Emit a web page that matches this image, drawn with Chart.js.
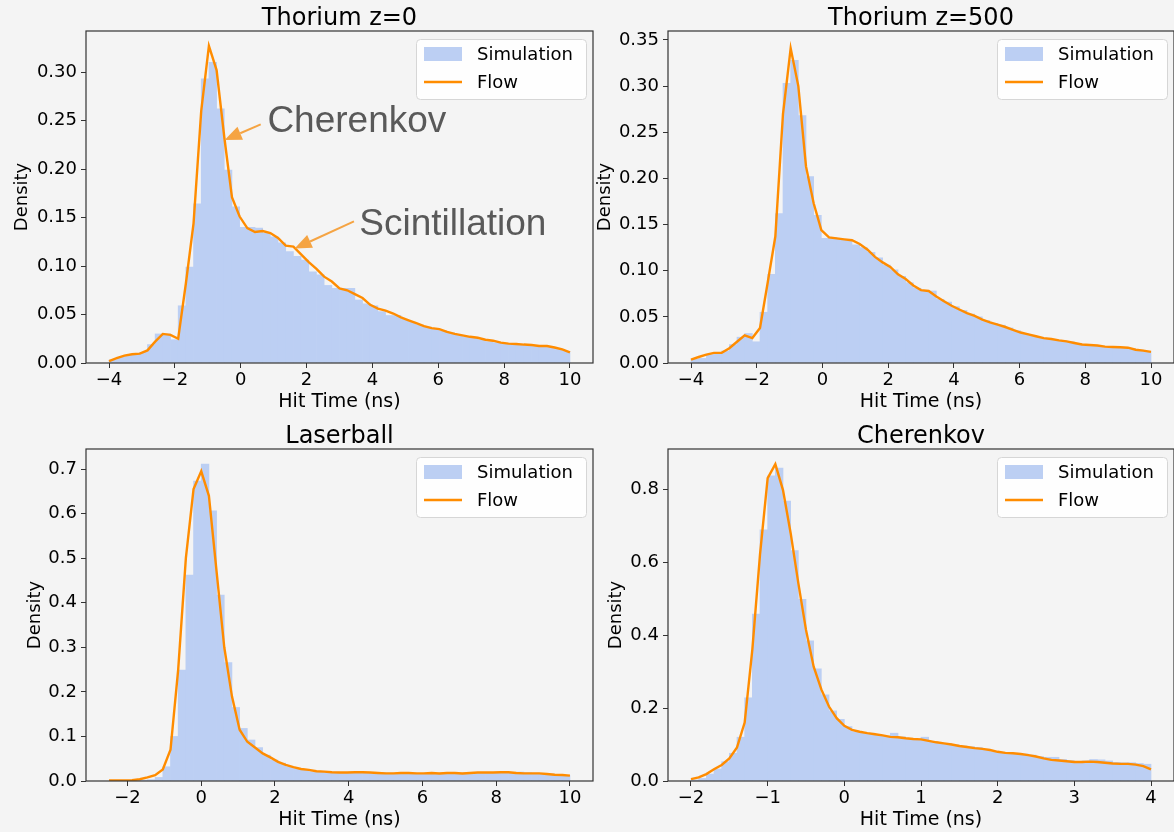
<!DOCTYPE html>
<html>
<head>
<meta charset="utf-8">
<script src="https://cdn.jsdelivr.net/npm/chart.js@4.4.1/dist/chart.umd.min.js"></script>
<style>
  html, body { margin: 0; padding: 0; background: #f4f4f4; width: 1174px; height: 832px; overflow: hidden; }
  canvas { position: absolute; }
</style>
</head>
<body>
<canvas id="c1" width="600" height="418" style="left:0;top:0"></canvas>
<canvas id="c2" width="585" height="418" style="left:595px;top:0"></canvas>
<canvas id="c3" width="600" height="418" style="left:0;top:418px"></canvas>
<canvas id="c4" width="585" height="418" style="left:595px;top:418px"></canvas>
<script>
// histogram heights (60 bins) and flow density at the bin edges (61 points)
const th0Sim = [0.003,0.006,0.008,0.009,0.011,0.019,0.030,0.030,0.024,0.059,
  0.099,0.164,0.293,0.310,0.262,0.199,0.161,0.140,0.140,0.139,
  0.134,0.130,0.124,0.115,0.110,0.106,0.094,0.091,0.080,0.077,
  0.077,0.077,0.065,0.061,0.059,0.053,0.049,0.049,0.045,0.042,
  0.039,0.037,0.035,0.033,0.031,0.029,0.027,0.026,0.024,0.022,
  0.021,0.020,0.019,0.019,0.018,0.017,0.017,0.016,0.014,0.012];
const th0Flow = [0.002,0.005,0.0076,0.009,0.0096,0.013,0.022,0.030,0.029,0.025,
  0.082,0.144,0.260,0.327,0.302,0.233,0.171,0.151,0.139,0.135,
  0.136,0.134,0.129,0.121,0.120,0.112,0.104,0.097,0.089,0.084,
  0.077,0.075,0.071,0.067,0.060,0.056,0.054,0.051,0.047,0.044,
  0.041,0.038,0.036,0.035,0.032,0.030,0.0285,0.027,0.026,0.024,
  0.023,0.021,0.020,0.0196,0.019,0.0186,0.0175,0.0175,0.016,0.014,
  0.011];

const th500Sim = [0.004,0.005,0.009,0.010,0.013,0.020,0.028,0.032,0.023,0.055,
  0.096,0.162,0.303,0.328,0.268,0.202,0.160,0.135,0.136,0.134,
  0.134,0.128,0.125,0.120,0.114,0.106,0.101,0.094,0.087,0.081,
  0.078,0.078,0.069,0.066,0.061,0.057,0.053,0.050,0.046,0.043,
  0.041,0.038,0.035,0.032,0.030,0.028,0.026,0.025,0.024,0.023,
  0.021,0.020,0.019,0.018,0.018,0.017,0.017,0.0155,0.014,0.0126];
const th500Flow = [0.0036,0.0065,0.009,0.011,0.011,0.016,0.023,0.030,0.027,0.038,
  0.087,0.137,0.270,0.341,0.300,0.213,0.173,0.144,0.136,0.135,
  0.134,0.133,0.129,0.123,0.115,0.109,0.104,0.096,0.091,0.084,
  0.079,0.078,0.072,0.067,0.062,0.058,0.054,0.051,0.047,0.044,
  0.0415,0.039,0.036,0.033,0.031,0.029,0.027,0.026,0.0245,0.0235,
  0.0217,0.020,0.0195,0.019,0.0177,0.0173,0.017,0.0166,0.0144,0.0134,
  0.012];

const laserSim = [0.000,0.000,0.001,0.001,0.002,0.003,0.008,0.032,0.100,0.249,
  0.462,0.673,0.711,0.606,0.417,0.266,0.165,0.118,0.092,0.075,
  0.058,0.047,0.040,0.032,0.028,0.025,0.021,0.020,0.019,0.020,
  0.018,0.019,0.020,0.019,0.018,0.019,0.018,0.017,0.018,0.018,
  0.017,0.018,0.017,0.018,0.018,0.017,0.018,0.019,0.018,0.019,
  0.019,0.020,0.019,0.020,0.019,0.018,0.017,0.016,0.015,0.012];
const laserFlow = [0.001,0.001,0.0015,0.002,0.004,0.008,0.013,0.026,0.070,0.250,
  0.500,0.655,0.695,0.640,0.470,0.300,0.190,0.115,0.088,0.075,
  0.062,0.053,0.043,0.036,0.031,0.027,0.025,0.022,0.021,0.0195,
  0.019,0.019,0.0195,0.0195,0.019,0.018,0.017,0.017,0.018,0.018,
  0.017,0.017,0.018,0.017,0.018,0.018,0.017,0.018,0.019,0.019,
  0.019,0.0195,0.0195,0.018,0.017,0.017,0.017,0.0157,0.014,0.0135,
  0.012];

const cherSim = [0.003,0.007,0.019,0.033,0.053,0.076,0.120,0.228,0.457,0.688,
  0.836,0.857,0.767,0.631,0.498,0.384,0.307,0.236,0.192,0.169,
  0.149,0.135,0.132,0.131,0.126,0.123,0.131,0.121,0.117,0.114,
  0.120,0.108,0.103,0.103,0.099,0.096,0.094,0.092,0.087,0.080,
  0.076,0.076,0.074,0.074,0.071,0.067,0.065,0.065,0.059,0.056,
  0.053,0.055,0.059,0.058,0.055,0.051,0.050,0.050,0.048,0.046];
const cherFlow = [0.005,0.010,0.019,0.032,0.044,0.062,0.092,0.160,0.360,0.620,
  0.830,0.868,0.797,0.679,0.542,0.414,0.313,0.251,0.204,0.172,
  0.151,0.140,0.135,0.131,0.128,0.125,0.121,0.120,0.117,0.115,
  0.114,0.110,0.106,0.103,0.100,0.096,0.093,0.090,0.088,0.085,
  0.080,0.077,0.076,0.074,0.071,0.067,0.062,0.058,0.056,0.054,
  0.052,0.052,0.053,0.052,0.050,0.048,0.047,0.047,0.045,0.041,
  0.032];

// tick labels
const xTicksThorium = [-4, -2, 0, 2, 4, 6, 8, 10];
const xTicksLaser = [-2, 0, 2, 4, 6, 8, 10];
const xTicksCher = [-2, -1, 0, 1, 2, 3, 4];
const yTicksTh0 = [0, 0.05, 0.10, 0.15, 0.20, 0.25, 0.30];
const yTicksTh500 = [0, 0.05, 0.10, 0.15, 0.20, 0.25, 0.30, 0.35];
const yTicksLaser = [0, 0.1, 0.2, 0.3, 0.4, 0.5, 0.6, 0.7];
const yTicksCher = [0, 0.2, 0.4, 0.6, 0.8];

Chart.defaults.font.family = "'DejaVu Sans', sans-serif";
Chart.defaults.font.size = 18;
Chart.defaults.color = '#000';

const SIM_COLOR = 'rgb(188, 207, 243)';
const FLOW_COLOR = '#ff8c00';
const ARROW_COLOR = '#f5a443';

function arrow(c, x0, y0, x1, y1) {
  const a = Math.atan2(y1 - y0, x1 - x0), L = 17, W = 7;
  const bx = x1 - L * Math.cos(a), by = y1 - L * Math.sin(a);
  c.beginPath(); c.moveTo(x0, y0); c.lineTo(bx, by); c.stroke();
  c.beginPath();
  c.moveTo(x1, y1);
  c.lineTo(bx + W * Math.sin(a), by - W * Math.cos(a));
  c.lineTo(bx - W * Math.sin(a), by + W * Math.cos(a));
  c.closePath(); c.fill();
}

// matplotlib-like frame, inner legend and annotations
const mplPlugin = {
  id: 'mpl',
  afterDatasetsDraw(chart) {
    const a = chart.chartArea, c = chart.ctx;
    c.save();
    c.strokeStyle = '#333';
    c.lineWidth = 1.2;
    c.strokeRect(a.left, a.top, a.right - a.left, a.bottom - a.top);
    c.restore();
  },
  afterDraw(chart, args, opts) {
    const a = chart.chartArea, c = chart.ctx;
    const w = 170, h = 60, x = a.right - 7 - w, y = a.top + 8;
    c.save();
    c.beginPath();
    c.roundRect(x + 0.5, y + 0.5, w, h, 4);
    c.fillStyle = 'rgba(255,255,255,0.85)';
    c.fill();
    c.strokeStyle = '#d6d6d6';
    c.lineWidth = 1;
    c.stroke();
    const ds = chart.data.datasets;
    c.font = "18px 'DejaVu Sans'";
    c.textBaseline = 'middle';
    c.fillStyle = ds[0].backgroundColor;
    c.fillRect(x + 8, y + 8, 38, 14);
    c.fillStyle = '#000';
    c.fillText(ds[0].label, x + 61, y + 16);
    c.strokeStyle = ds[1].borderColor;
    c.lineWidth = 2.4;
    c.beginPath(); c.moveTo(x + 8, y + 43); c.lineTo(x + 46, y + 43); c.stroke();
    c.fillText(ds[1].label, x + 61, y + 44);

    const notes = (opts && opts.notes) || [];
    const sx = chart.scales.x, sy = chart.scales.y;
    for (const n of notes) {
      c.strokeStyle = ARROW_COLOR;
      c.fillStyle = ARROW_COLOR;
      c.lineWidth = 2;
      arrow(c, sx.getPixelForValue(n.from[0]), sy.getPixelForValue(n.from[1]),
               sx.getPixelForValue(n.to[0]), sy.getPixelForValue(n.to[1]));
      c.font = "37px 'Liberation Sans', Arial, sans-serif";
      c.fillStyle = '#595959';
      c.textBaseline = 'alphabetic';
      c.fillText(n.text, sx.getPixelForValue(n.at[0]), sy.getPixelForValue(n.at[1]));
    }
    c.restore();
  }
};

function makeChart(id, title, sim, flow, lo, hi, xTicks, yTicks, yMax, yDec, lay, notes) {
  const bw = (hi - lo) / sim.length;
  const span = hi - lo;
  const tickGrid = { display: true, drawOnChartArea: false, drawTicks: true, tickLength: 5, tickColor: '#333', offset: false };
  return new Chart(document.getElementById(id), {
    type: 'bar',
    data: {
      datasets: [
        {
          label: 'Simulation',
          data: sim.map((v, i) => ({ x: lo + bw * (i + 0.5), y: v })),
          backgroundColor: SIM_COLOR,
          borderWidth: 0,
          barPercentage: 1,
          categoryPercentage: 1,
          order: 2
        },
        {
          type: 'line',
          label: 'Flow',
          data: flow.map((v, k) => ({ x: lo + bw * k, y: v })),
          borderColor: FLOW_COLOR,
          borderWidth: 2.4,
          pointRadius: 0,
          tension: 0,
          fill: false,
          order: 1
        }
      ]
    },
    options: {
      responsive: false,
      animation: false,
      layout: { padding: { left: 0, right: lay.right, top: 0, bottom: 0 } },
      plugins: {
        legend: { display: false },
        tooltip: { enabled: false },
        title: {
          display: true, text: title, color: '#000',
          fullSize: false,
          font: { size: 24, weight: 'normal' },
          padding: { top: 4, bottom: -1.8 }
        },
        mpl: { notes: notes || [] }
      },
      scales: {
        x: {
          type: 'linear',
          min: lo - 0.05 * span,
          max: hi + 0.05 * span,
          offset: false,
          grid: tickGrid,
          border: { display: false },
          ticks: { padding: 2, maxRotation: 0, autoSkip: false,
                   callback: v => String(v).replace('-', '\u2212') },
          title: { display: true, text: 'Hit Time (ns)', font: { size: 19 }, padding: { top: 0, bottom: 4.8 } },
          afterBuildTicks: s => { s.ticks = xTicks.map(v => ({ value: v })); },
          afterFit: s => { s.height = 55; s.paddingLeft = 0; s.paddingRight = 0; }
        },
        y: {
          min: 0,
          max: yMax,
          grid: tickGrid,
          border: { display: false },
          ticks: { padding: 4, callback: v => v.toFixed(yDec) },
          title: { display: true, text: 'Density', font: { size: 18 }, padding: { top: lay.yTitle, bottom: 0 } },
          afterBuildTicks: s => { s.ticks = yTicks.map(v => ({ value: v })); },
          afterFit: s => { s.width = lay.yWidth; s.paddingTop = 0; s.paddingBottom = 0; }
        }
      }
    },
    plugins: [mplPlugin]
  });
}

makeChart('c1', 'Thorium z=0', th0Sim, th0Flow, -4, 10, xTicksThorium, yTicksTh0, 0.3423, 2,
  { right: 7, yWidth: 86, yTitle: 12 },
  [
    { text: 'Cherenkov', at: [0.81, 0.2385], from: [0.607, 0.246], to: [-0.49, 0.23] },
    { text: 'Scintillation', at: [3.60, 0.132], from: [3.44, 0.146], to: [1.636, 0.118] }
  ]);
makeChart('c2', 'Thorium z=500', th500Sim, th500Flow, -4, 10, xTicksThorium, yTicksTh500, 0.3597, 2,
  { right: 6, yWidth: 73, yTitle: 0 });
makeChart('c3', 'Laserball', laserSim, laserFlow, -2.5, 10, xTicksLaser, yTicksLaser, 0.745, 1,
  { right: 7, yWidth: 86, yTitle: 25 });
makeChart('c4', 'Cherenkov', cherSim, cherFlow, -2, 4, xTicksCher, yTicksCher, 0.9096, 1,
  { right: 6, yWidth: 73, yTitle: 11 });
</script>
</body>
</html>
